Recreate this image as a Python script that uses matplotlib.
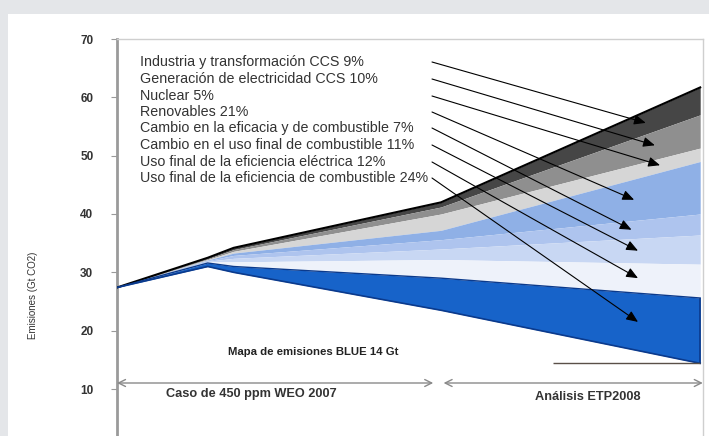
import numpy as np
import matplotlib
matplotlib.use("Agg")
import matplotlib.pyplot as plt
from matplotlib.patches import Rectangle

plt.rcParams['font.family'] = ['Liberation Sans', 'DejaVu Sans']

# años (eje x sin etiquetas)
years = [2005, 2012, 2014, 2030, 2050]

# linea base (mapa BLUE) y techo acumulado de cada capa, Gt CO2
base_blue = [27.4, 31.0, 30.0, 23.5, 14.4]
top_ef_comb = [27.4, 31.6, 31.0, 29.0, 25.6]
top_ef_elec = [27.4, 31.8, 31.8, 32.2, 31.4]
top_uso_comb = [27.4, 31.9, 32.4, 34.0, 36.4]
top_eficacia = [27.4, 32.0, 32.9, 35.6, 40.0]
top_renov = [27.4, 32.1, 33.3, 37.2, 49.0]
top_nuclear = [27.4, 32.2, 33.6, 40.0, 51.3]
top_gen_ccs = [27.4, 32.35, 33.9, 41.2, 57.0]
top_ind_ccs = [27.4, 32.5, 34.2, 42.0, 61.7]

labels = ["Industria y transformación CCS 9%",
          "Generación de electricidad CCS 10%",
          "Nuclear 5%",
          "Renovables 21%",
          "Cambio en la eficacia y de combustible 7%",
          "Cambio en el uso final de combustible 11%",
          "Uso final de la eficiencia eléctrica 12%",
          "Uso final de la eficiencia de combustible 24%"]

# capas de arriba hacia abajo: (inferior, superior, color)
layers = [(top_gen_ccs, top_ind_ccs, "#464646"),
          (top_nuclear, top_gen_ccs, "#8f8f8f"),
          (top_renov, top_nuclear, "#d6d6d6"),
          (top_eficacia, top_renov, "#8fb0e6"),
          (top_uso_comb, top_eficacia, "#aec4ee"),
          (top_ef_elec, top_uso_comb, "#c8d7f3"),
          (top_ef_comb, top_ef_elec, "#eef2fa"),
          (base_blue, top_ef_comb, "#1763c9")]

arrow_years = [2045.8, 2046.5, 2046.9, 2044.9, 2044.7, 2045.2, 2045.2, 2045.2]

W, H = 709, 436
fig = plt.figure(figsize=(W / 100, H / 100), dpi=100)
fig.patch.set_facecolor("#e4e6e9")
fig.add_artist(Rectangle((8 / W, 0), 1, 1 - 14 / H, transform=fig.transFigure,
                         facecolor="white", edgecolor="none", zorder=0))

ax = fig.add_axes([117 / W, 0, 586 / W, 397 / H])
ax.set_facecolor("white")
ppu = 350 / 60.0
ax.set_ylim(70 - 397 / ppu, 70)
ax.set_xlim(2005, 2005 + 586 / 12.96)

for lo, hi, c in layers:
    ax.fill_between(years, lo, hi, color=c, linewidth=0, zorder=2)
ax.plot(years, top_ind_ccs, color="black", lw=1.5, zorder=3)
ax.plot(years, top_ef_comb, color="#0b3a8c", lw=1, zorder=3)
ax.plot(years, base_blue, color="#0b3a8c", lw=1.2, zorder=3)
ax.vlines(years[-1], base_blue[-1], top_ef_comb[-1], color="#0b3a8c", lw=1.2, zorder=3)

# ejes
for s in ["top", "right"]:
    ax.spines[s].set_color("#cfcfcf")
    ax.spines[s].set_linewidth(1)
ax.spines["bottom"].set_visible(False)
ax.spines["left"].set_color("#9a9a9a")
ax.spines["left"].set_linewidth(2)
ax.set_xticks([])
ax.set_yticks(range(10, 71, 10))
ax.tick_params(axis="y", length=4, color="#9a9a9a", pad=13, labelsize=8.5, labelcolor="#333333")
for t in ax.get_yticklabels():
    t.set_fontweight("bold")

fig.text(33 / W, 1 - 295 / H, "Emisiones (Gt CO2)", rotation=90, ha="center", va="center",
         fontsize=7, color="#333333")

# etiquetas con flechas
text_y = [62, 79, 96, 112, 128, 145, 162, 178]
for i, lab in enumerate(labels):
    fig.text(140 / W, 1 - text_y[i] / H, lab, ha="left", va="center", fontsize=10.3, color="#333333")
    lo, hi, _ = layers[i]
    ty = (np.interp(arrow_years[i], years, lo) + np.interp(arrow_years[i], years, hi)) / 2
    ax.annotate("", xy=(arrow_years[i], ty), xycoords="data",
                xytext=(432 / W, 1 - text_y[i] / H), textcoords="figure fraction",
                arrowprops=dict(arrowstyle="-|>,head_length=0.7,head_width=0.3",
                                color="black", lw=0.8, shrinkA=0, shrinkB=0), zorder=5)

ax.text(2005 + (313 - 117) / 12.96, 10 + (389 - 352) / ppu, "Mapa de emisiones BLUE 14 Gt",
        ha="center", va="center", fontsize=8.2, fontweight="bold", color="#222222")
ax.hlines(base_blue[-1], 2005 + (553 - 117) / 12.96, years[-1], color="#5a5048", lw=1, zorder=3)

# flechas de periodos
yarr = 10 + (389 - 383) / ppu
ax.annotate("", xy=(2005, yarr), xytext=(2029.4, yarr),
            arrowprops=dict(arrowstyle="<->,head_length=0.5,head_width=0.25", color="#8a8a8a",
                            lw=1, shrinkA=0, shrinkB=0))
ax.annotate("", xy=(2030.2, yarr), xytext=(2050.2, yarr),
            arrowprops=dict(arrowstyle="<->,head_length=0.5,head_width=0.25", color="#8a8a8a",
                            lw=1, shrinkA=0, shrinkB=0))
ax.text(2005 + (251 - 117) / 12.96, 10 + (389 - 394) / ppu, "Caso de 450 ppm WEO 2007",
        ha="center", va="center", fontsize=9.2, fontweight="bold", color="#333333")
ax.text(2005 + (588 - 117) / 12.96, 10 + (389 - 397) / ppu, "Análisis ETP2008",
        ha="center", va="center", fontsize=9.2, fontweight="bold", color="#333333")

fig.savefig("out.png", dpi=100, facecolor=fig.get_facecolor())
